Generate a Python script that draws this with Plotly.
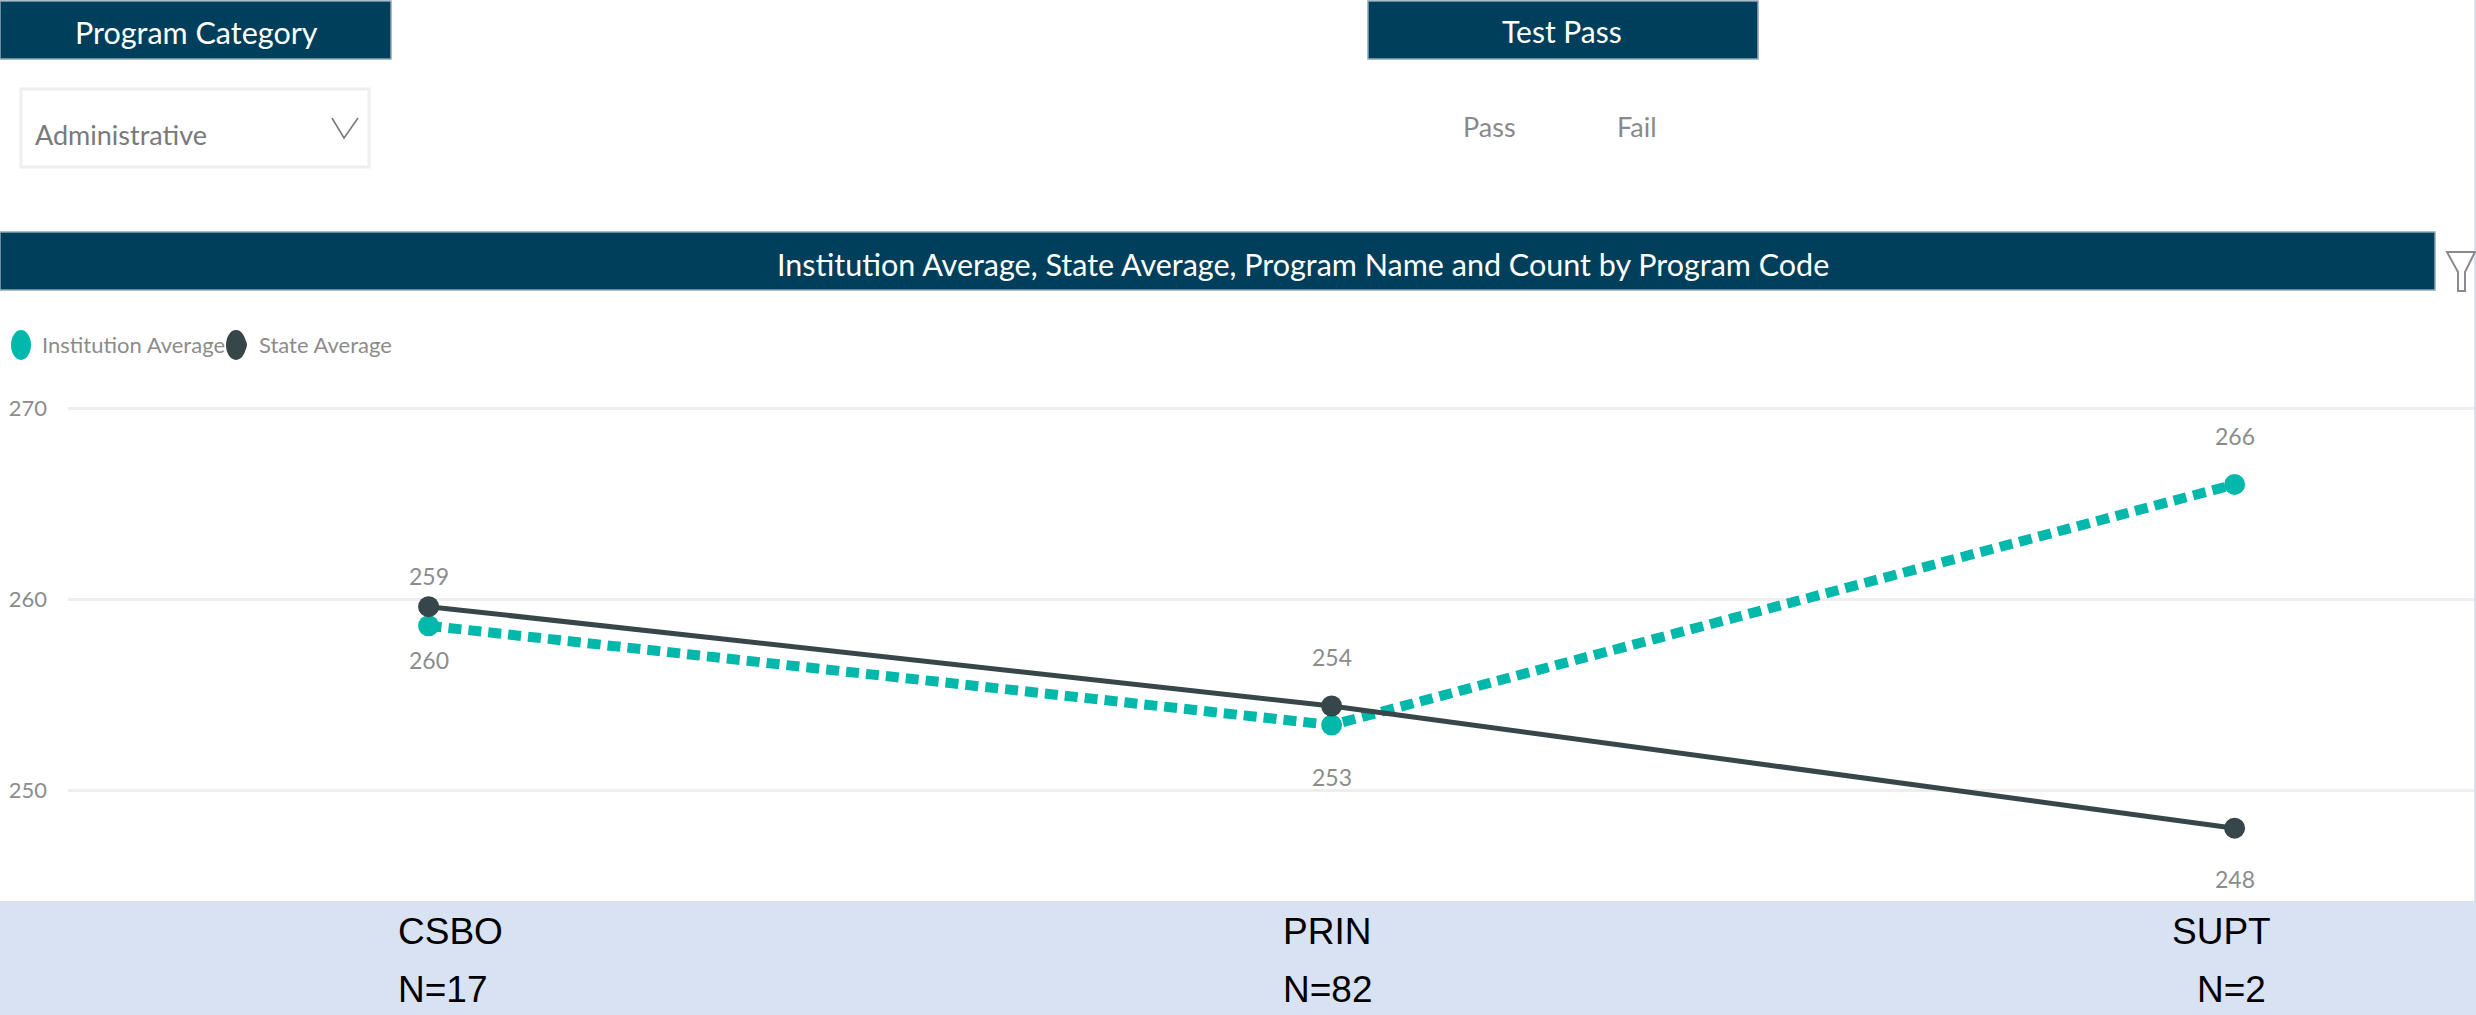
import plotly.graph_objects as go

# ---- data ----
program_codes = ["CSBO", "PRIN", "SUPT"]
institution_average = [258.6, 253.4, 266.0]
state_average = [259.6, 254.4, 248.0]
institution_labels = ["260", "253", "266"]
state_labels = ["259", "254", "248"]
y_ticks = [250, 260, 270]
counts = ["N=17", "N=82", "N=2"]

# ---- style ----
W, H = 2476, 1015
TEAL, DARK, NAVY, BAND = "#01B8AA", "#374649", "#003F5B", "#D9E2F3"
NARROW = "Lato, sans-serif"
WIDE = "Liberation Sans, sans-serif"
GREY = "#8C8C8C"

def px(x): return x / W
def py(y): return 1 - y / H

PLOT_L, PLOT_R, PLOT_T, PLOT_B = 68, 2474, 300, 901
X0, X_STEP = 428.6, 903.0
Y260, Y_STEP = 599.0, 19.1

fig = go.Figure()

for name, vals, color, width, dash in [
    ("Institution Average", institution_average, TEAL, 10, "13px,7px"),
    ("State Average", state_average, DARK, 5, "solid"),
]:
    fig.add_trace(go.Scatter(x=program_codes, y=vals, mode="lines", showlegend=False,
                             line=dict(color=color, width=width, dash=dash), hoverinfo="skip"))
    fig.add_trace(go.Scatter(x=program_codes, y=vals, mode="markers", name=name,
                             marker=dict(color=color, size=21)))

annotations = []
def text(x, y, s, size, color, font=NARROW, anchor="center"):
    annotations.append(dict(x=px(x), y=py(y), xref="paper", yref="paper", text=s, showarrow=False,
                            xanchor=anchor, yanchor="middle",
                            font=dict(family=font, size=size, color=color)))

text(196, 32, "Program Category", 30.5, "white")
text(1562, 31, "Test Pass", 30, "white")
text(1303, 264, "Institution Average, State Average, Program Name and Count by Program Code", 30.5, "white")
text(33, 134, "Administrative", 27, "#7A7A7A", anchor="left")
text(1489, 127, "Pass", 27, "#8A8A8A")
text(1637, 126, "Fail", 27, "#8A8A8A")

# data labels, offset from their points like the original
inst_off = [34, 52, -48]
state_off = [-31, -49, 51]
for i, code in enumerate(program_codes):
    annotations.append(dict(x=code, y=institution_average[i], text=institution_labels[i], showarrow=False,
                            yshift=-inst_off[i], font=dict(family=NARROW, size=23, color=GREY)))
    annotations.append(dict(x=code, y=state_average[i], text=state_labels[i], showarrow=False,
                            yshift=-state_off[i], font=dict(family=NARROW, size=23, color=GREY)))

# band labels
band_x = [(396, 396), (1281, 1281), (2170, 2195)]
for code, n, (x1, x2) in zip(program_codes, counts, band_x):
    text(x1, 931, code, 37, "black", WIDE, "left")
    text(x2, 989, n, 37, "black", WIDE, "left")

EDGE = "#8FA7B5"
shapes = [
    dict(type="rect", xref="paper", yref="paper", x0=px(0), x1=px(W), y0=py(901), y1=py(H),
         fillcolor=BAND, line_width=0, layer="below"),
    dict(type="rect", xref="paper", yref="paper", x0=px(2474), x1=px(W), y0=py(0), y1=py(901),
         fillcolor=BAND, line_width=0, layer="below"),
]
for x0, x1, y0, y1 in [(0, 391, 1, 59), (1368, 1758, 1, 59), (0, 2435, 232, 290)]:
    shapes.append(dict(type="rect", xref="paper", yref="paper", x0=px(x0), x1=px(x1), y0=py(y0), y1=py(y1),
                       fillcolor=NAVY, line=dict(color=EDGE, width=1.5), layer="below"))
# taller legend keys behind the legend's own markers
for cx, color in [(21, TEAL), (236, DARK)]:
    shapes.append(dict(type="circle", xref="paper", yref="paper", x0=px(cx - 10), x1=px(cx + 10),
                       y0=py(345 - 15), y1=py(345 + 15), fillcolor=color, line_width=0))
# dropdown box and chevron
shapes.append(dict(type="rect", xref="paper", yref="paper", x0=px(21), x1=px(369), y0=py(89), y1=py(167),
                   fillcolor="white", line=dict(color="#EEEEEE", width=3), layer="below"))
shapes.append(dict(type="path", xref="paper", yref="paper",
                   path=f"M {px(332)} {py(118)} L {px(344)} {py(138)} L {px(358)} {py(118)}",
                   line=dict(color="#777777", width=1.5)))
# filter icon
shapes.append(dict(type="path", xref="paper", yref="paper",
                   path=f"M {px(2447)} {py(252)} L {px(2475)} {py(252)} L {px(2465)} {py(272)} "
                        f"L {px(2465)} {py(291)} L {px(2458)} {py(291)} L {px(2458)} {py(272)} Z",
                   line=dict(color="#8A8A8A", width=2), fillcolor="white"))

fig.update_layout(
    width=W, height=H,
    margin=dict(l=0, r=0, t=0, b=0),
    autosize=False,
    paper_bgcolor="white", plot_bgcolor="white",
    annotations=annotations, shapes=shapes,
    legend=dict(orientation="h", x=px(2), y=py(345), xanchor="left", yanchor="middle",
                entrywidth=172, entrywidthmode="pixels", traceorder="normal",
                font=dict(family=NARROW, size=22, color=GREY), bgcolor="rgba(0,0,0,0)",
                itemwidth=30),
    xaxis=dict(domain=[px(PLOT_L), px(PLOT_R)], type="category",
               categoryorder="array", categoryarray=program_codes,
               range=[(PLOT_L - X0) / X_STEP, (PLOT_R - X0) / X_STEP],
               showgrid=False, zeroline=False, showline=False, showticklabels=False, ticks=""),
    yaxis=dict(domain=[py(PLOT_B), py(PLOT_T)],
               range=[260 - (PLOT_B - Y260) / Y_STEP, 260 + (Y260 - PLOT_T) / Y_STEP],
               tickmode="array", tickvals=y_ticks, ticktext=[str(t) for t in y_ticks],
               showgrid=True, gridcolor="#EEEEEE", gridwidth=3, zeroline=False, showline=False,
               ticks="", ticklabelstandoff=20, automargin=False,
               tickfont=dict(family=NARROW, size=22, color=GREY)),
)

fig.write_html("out.html", config=dict(displayModeBar=False),
               post_script="document.body.style.margin='0';document.documentElement.style.overflow='hidden';")
